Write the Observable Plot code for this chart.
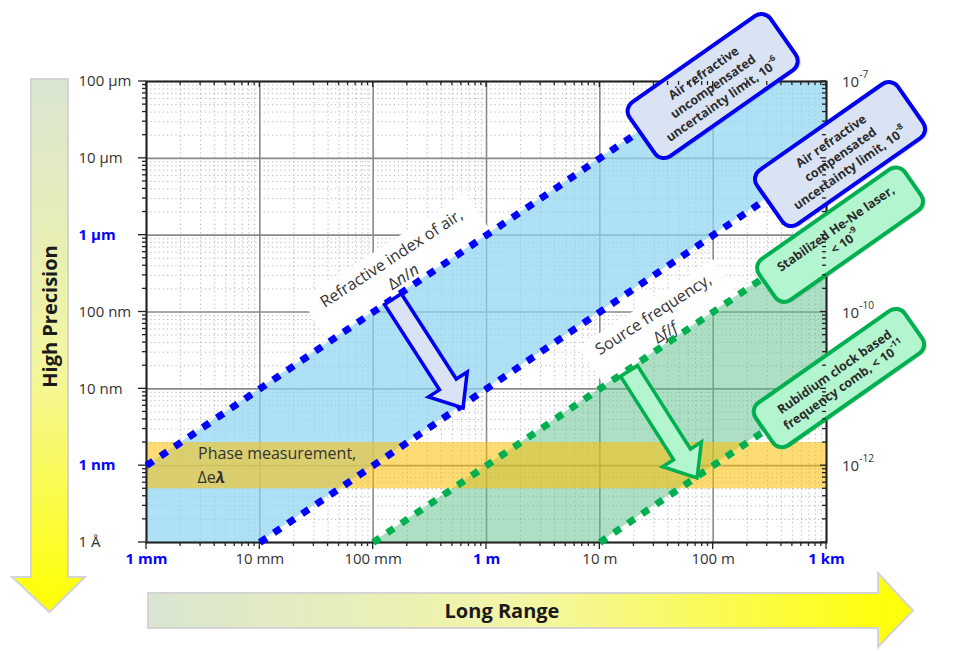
<!DOCTYPE html>
<html><head><meta charset="utf-8">
<script src="https://cdn.jsdelivr.net/npm/d3@7"></script>
<script src="https://cdn.jsdelivr.net/npm/@observablehq/plot@0.6"></script>
<style>
body{margin:0;background:#fff;}
#chart{position:absolute;left:0;top:0;}
</style></head><body><div id="chart"></div>
<script>
// ---------------- data ----------------
const xTickValues = [1e-3, 1e-2, 1e-1, 1, 10, 100, 1000];
const xTickLabels = ["1 mm", "10 mm", "100 mm", "1 m", "10 m", "100 m", "1 km"];
const xTickHighlight = [true, false, false, true, false, false, true];

const yTickValues = [1e-4, 1e-5, 1e-6, 1e-7, 1e-8, 1e-9, 1e-10];
const yTickLabels = ["100 µm", "10 µm", "1 µm", "100 nm", "10 nm", "1 nm", "1 Å"];
const yTickHighlight = [false, false, true, false, false, true, false];

const rightLabelValues = [1e-4, 1e-7, 1e-9];
const rightLabelExp = ["-7", "-10", "-12"];

// limit lines: length L (m) vs uncertainty U (m)
const airUncompLine = [{L: 1e-3, U: 1e-9}, {L: 100, U: 1e-4}];
const airCompLine   = [{L: 1e-2, U: 1e-10}, {L: 1e3, U: 1e-5}];
const heNeLine      = [{L: 0.1, U: 1e-10}, {L: 1e3, U: 1e-6}];
const rbCombLine    = [{L: 10, U: 1e-10}, {L: 1e3, U: 1e-8}];

// shaded regions
const blueRegion  = [{L: 1e-3, lo: 1e-10, hi: 1e-9}, {L: 1e-2, lo: 1e-10, hi: 1e-8}, {L: 100, lo: 1e-6, hi: 1e-4}, {L: 1e3, lo: 1e-5, hi: 1e-4}];
const greenRegion = [{L: 0.1, lo: 1e-10, hi: 1e-10}, {L: 10, lo: 1e-10, hi: 1e-8}, {L: 1e3, lo: 1e-8, hi: 1e-6}];
const phaseBand   = [{L1: 1e-3, L2: 1e3, lo: 5e-10, hi: 2e-9}];

// annotation boxes (centre in data coords)
const boxLabels = [
  {L: 100,  U: 8.6e-5, w: 172, h: 66, kind: "blue",  lines: [[["Air refractive"]], [["uncompensated"]], [["uncertainty limit, 10"], ["-6", "sup"]]]},
  {L: 1330, U: 1.12e-5, w: 172, h: 66, kind: "blue", lines: [[["Air refractive"]], [["compensated"]], [["uncertainty limit, 10"], ["-8", "sup"]]]},
  {L: 1330, U: 1.0e-6, w: 178, h: 50, kind: "green", lines: [[["Stabilized He-Ne laser,"]], [["< 10"], ["-9", "sup"]]]},
  {L: 1300, U: 1.36e-8, w: 182, h: 52, kind: "green", lines: [[["Rubidium clock based"]], [["frequency comb, < 10"], ["-11", "sup"]]]}
];
const slantLabels = [
  {L: 0.164, U: 3.79e-7, w: 196, h: 50, lines: [[["Refractive index of air,"]], [["Δ"], ["n", "it"], ["/"], ["n", "it"]]]},
  {L: 33.6, U: 7.08e-8, w: 160, h: 48, lines: [[["Source frequency,"]], [["Δ"], ["f", "it"], ["/"], ["f", "it"]]]}
];
const blockArrows = [
  {L1: 0.151, U1: 1.45e-7, L2: 0.627, U2: 5.55e-9, kind: "blue"},
  {L1: 18.3, U1: 1.68e-8, L2: 72.8, U2: 6.8e-10, kind: "green"}
];
const phaseText = [{L: 2.85e-3, U: 1.44e-9, t: "Phase measurement,"}];
const phaseSymbol = [{L: 2.85e-3, U: 7.0e-10}];

// ---------------- styling ----------------
const FONT = "'Open Sans', sans-serif";
const BLUE = "#0000ff", GREEN = "#00b050";
const kinds = {
  blue:  {fill: "#dae3f3", stroke: "#0000ee"},
  green: {fill: "#b3f5cf", stroke: "#00b050"}
};
const ANGLE = -35;

const xTicks = xTickValues.map((v, i) => ({v, label: xTickLabels[i], hl: xTickHighlight[i]}));
const yTicks = yTickValues.map((v, i) => ({v, label: yTickLabels[i], hl: yTickHighlight[i]}));
const minorX = xTickValues.slice(0, -1).flatMap(m => [2,3,4,5,6,7,8,9].map(k => k * m));
const minorY = yTickValues.slice(1).flatMap(m => [2,3,4,5,6,7,8,9].map(k => k * m));

function writeParts(textSel, parts) {
  parts.forEach(([s, style]) => {
    const t = textSel.append("tspan").text(s);
    if (style === "sup") t.attr("font-size", "0.68em").attr("baseline-shift", "super");
    if (style === "it") t.attr("font-style", "italic");
  });
}

// decorative side arrows
function sideArrows(index, scales, values, dim) {
  const g = d3.create("svg:g");
  const defs = g.append("defs");
  const gv = defs.append("linearGradient").attr("id", "gradV").attr("x1", 0).attr("y1", 0).attr("x2", 0).attr("y2", 1);
  gv.append("stop").attr("offset", "0%").attr("stop-color", "#d9e5d2");
  gv.append("stop").attr("offset", "55%").attr("stop-color", "#f4f69c");
  gv.append("stop").attr("offset", "100%").attr("stop-color", "#ffff00");
  const gh = defs.append("linearGradient").attr("id", "gradH").attr("x1", 0).attr("y1", 0).attr("x2", 1).attr("y2", 0);
  gh.append("stop").attr("offset", "0%").attr("stop-color", "#d9e5d2");
  gh.append("stop").attr("offset", "50%").attr("stop-color", "#f4f6a4");
  gh.append("stop").attr("offset", "100%").attr("stop-color", "#ffff00");
  const T = dim.marginTop, B = dim.height - dim.marginBottom, Lf = dim.marginLeft, R = dim.width - dim.marginRight;
  const vx0 = 31, vx1 = 68, vcx = 49.5, vtop = T - 2, vhead = B + 35, vtip = B + 70;
  g.append("path")
    .attr("d", `M${vx0},${vtop}H${vx1}V${vhead}H${vx1 + 17}L${vcx},${vtip}L${vx0 - 19},${vhead}H${vx0}Z`)
    .attr("fill", "url(#gradV)").attr("stroke", "#d4d4d4").attr("stroke-width", 2);
  g.append("text").attr("transform", `translate(${vcx},${(T + B) / 2 + 5}) rotate(-90)`)
    .attr("text-anchor", "middle").attr("dominant-baseline", "central")
    .attr("font-family", FONT).attr("font-weight", "bold").attr("font-size", 20).attr("fill", "#1a1a1a")
    .text("High Precision");
  const hy0 = B + 51, hy1 = B + 86, hcy = B + 68.5, hx0 = Lf + 2, hhead = R + 52, htip = R + 87;
  g.append("path")
    .attr("d", `M${hx0},${hy0}H${hhead}V${hy0 - 20}L${htip},${hcy}L${hhead},${hy1 + 19}V${hy1}H${hx0}Z`)
    .attr("fill", "url(#gradH)").attr("stroke", "#d4d4d4").attr("stroke-width", 2);
  g.append("text").attr("x", 502).attr("y", hcy)
    .attr("text-anchor", "middle").attr("dominant-baseline", "central")
    .attr("font-family", FONT).attr("font-weight", "bold").attr("font-size", 20).attr("fill", "#1a1a1a")
    .text("Long Range");
  return g.node();
}

function labelBackgrounds(index, {x, y}) {
  const g = d3.create("svg:g");
  slantLabels.forEach(d => {
    g.append("rect").attr("transform", `translate(${x(d.L)},${y(d.U)}) rotate(-33)`)
      .attr("x", -d.w / 2).attr("y", -d.h / 2).attr("width", d.w).attr("height", d.h).attr("fill", "#fff");
  });
  return g.node();
}

function slantText(index, {x, y}) {
  const g = d3.create("svg:g").attr("font-family", FONT).attr("font-size", 16).attr("fill", "#333");
  slantLabels.forEach(d => {
    const grp = g.append("g").attr("transform", `translate(${x(d.L)},${y(d.U)}) rotate(-33)`);
    d.lines.forEach((parts, i) => {
      const t = grp.append("text").attr("text-anchor", "middle").attr("dominant-baseline", "central")
        .attr("y", (i - (d.lines.length - 1) / 2) * 22);
      writeParts(t, parts);
    });
  });
  return g.node();
}

function arrows(index, {x, y}) {
  const g = d3.create("svg:g");
  blockArrows.forEach(d => {
    const x1 = x(d.L1), y1 = y(d.U1), x2 = x(d.L2), y2 = y(d.U2);
    const len = Math.hypot(x2 - x1, y2 - y1), ang = Math.atan2(y2 - y1, x2 - x1) * 180 / Math.PI;
    const sw = 10, hw = 23, hl = 28;
    g.append("path").attr("transform", `translate(${x1},${y1}) rotate(${ang})`)
      .attr("d", `M0,${-sw}H${len - hl}V${-hw}L${len},0L${len - hl},${hw}V${sw}H0Z`)
      .attr("fill", kinds[d.kind].fill).attr("stroke", kinds[d.kind].stroke)
      .attr("stroke-width", 3.5).attr("stroke-linejoin", "miter");
  });
  return g.node();
}

function boxes(index, {x, y}) {
  const g = d3.create("svg:g").attr("font-family", FONT);
  boxLabels.forEach(d => {
    const grp = g.append("g").attr("transform", `translate(${x(d.L)},${y(d.U)}) rotate(${ANGLE})`);
    grp.append("rect").attr("x", -d.w / 2 + 2).attr("y", -d.h / 2 + 3).attr("width", d.w).attr("height", d.h)
      .attr("rx", 11).attr("fill", "rgba(0,0,0,0.12)");
    grp.append("rect").attr("x", -d.w / 2).attr("y", -d.h / 2).attr("width", d.w).attr("height", d.h)
      .attr("rx", 11).attr("fill", kinds[d.kind].fill).attr("stroke", kinds[d.kind].stroke).attr("stroke-width", 4);
    d.lines.forEach((parts, i) => {
      const t = grp.append("text").attr("text-anchor", "middle").attr("dominant-baseline", "central")
        .attr("y", (i - (d.lines.length - 1) / 2) * 16.5)
        .attr("font-size", 12.5).attr("font-weight", "bold").attr("fill", "#2b2b2b");
      writeParts(t, parts);
    });
  });
  return g.node();
}

function axisTicks(index, {x, y}, values, dim) {
  const g = d3.create("svg:g");
  const lines = g.append("g").attr("stroke", "#222").attr("stroke-width", 1.3);
  const T = dim.marginTop, B = dim.height - dim.marginBottom, Lf = dim.marginLeft, R = dim.width - dim.marginRight;
  const tick = (x1, y1, x2, y2) => lines.append("line").attr("x1", x1).attr("y1", y1).attr("x2", x2).attr("y2", y2);
  xTickValues.forEach(v => { const px = x(v); tick(px, B, px, B + 7); tick(px, T, px, T + 6); });
  minorX.forEach(v => { const px = x(v); tick(px, B, px, B + 4); tick(px, T, px, T + 4); });
  yTickValues.forEach(v => { const py = y(v); tick(Lf - 8, py, Lf, py); tick(R, py, R - 6, py); });
  minorY.forEach(v => { const py = y(v); tick(Lf - 4, py, Lf, py); tick(R, py, R - 4, py); });
  rightLabelValues.forEach((v, i) => {
    const t = g.append("text").attr("x", R + 16).attr("y", y(v)).attr("text-anchor", "start")
      .attr("dominant-baseline", "central").attr("font-family", FONT).attr("font-size", 15).attr("fill", "#333");
    writeParts(t, [["10"], [rightLabelExp[i], "sup"]]);
  });
  return g.node();
}

function phaseSym(index, {x, y}) {
  const g = d3.create("svg:g");
  phaseSymbol.forEach(d => {
    const t = g.append("text").attr("x", x(d.L)).attr("y", y(d.U)).attr("dominant-baseline", "central")
      .attr("text-anchor", "start").attr("font-family", FONT).attr("font-size", 16).attr("fill", "#333");
    t.append("tspan").text("Δe");
    t.append("tspan").text("λ").attr("font-style", "italic").attr("font-weight", "bold");
  });
  return g.node();
}

const dotted = {x: "L", y: "U", strokeWidth: 7, strokeDasharray: "8,9", strokeLinecap: "butt"};

const plot = Plot.plot({
  width: 963, height: 652,
  marginLeft: 146, marginRight: 137, marginTop: 81, marginBottom: 110,
  x: {type: "log", domain: [1e-3, 1e3], axis: null},
  y: {type: "log", domain: [1e-10, 1e-4], axis: null},
  style: {fontFamily: FONT, background: "#fff", overflow: "visible"},
  marks: [
    sideArrows,
    Plot.ruleX(minorX, {stroke: "#b5b5b5", strokeWidth: 1, strokeDasharray: "1.2,3"}),
    Plot.ruleY(minorY, {stroke: "#b5b5b5", strokeWidth: 1, strokeDasharray: "1.2,3"}),
    Plot.ruleX(xTickValues, {stroke: "#8a8a8a", strokeWidth: 1.6}),
    Plot.ruleY(yTickValues, {stroke: "#8a8a8a", strokeWidth: 1.6}),
    labelBackgrounds,
    Plot.areaY(blueRegion, {x: "L", y1: "lo", y2: "hi", fill: "#8fd6f2", fillOpacity: 0.72}),
    Plot.areaY(greenRegion, {x: "L", y1: "lo", y2: "hi", fill: "#5cc08a", fillOpacity: 0.5}),
    Plot.rect(phaseBand, {x1: "L1", x2: "L2", y1: "lo", y2: "hi", fill: "#ffc000", fillOpacity: 0.55}),
    Plot.frame({stroke: "#222", strokeWidth: 2}),
    Plot.line(airUncompLine, {...dotted, stroke: BLUE}),
    Plot.line(airCompLine, {...dotted, stroke: BLUE}),
    Plot.line(heNeLine, {...dotted, stroke: GREEN}),
    Plot.line(rbCombLine, {...dotted, stroke: GREEN}),
    slantText,
    Plot.text(phaseText, {x: "L", y: "U", text: "t", textAnchor: "start", fontSize: 16, fill: "#333"}),
    phaseSym,
    arrows,
    boxes,
    axisTicks,
    Plot.text(xTicks.filter(d => !d.hl), {x: "v", text: "label", frameAnchor: "bottom", dy: 21, fontSize: 15, fill: "#333"}),
    Plot.text(xTicks.filter(d => d.hl), {x: "v", text: "label", frameAnchor: "bottom", dy: 21, fontSize: 15, fontWeight: "bold", fill: BLUE}),
    Plot.text(yTicks.filter(d => !d.hl), {y: "v", text: "label", frameAnchor: "left", dx: -68, textAnchor: "start", fontSize: 15, fill: "#333"}),
    Plot.text(yTicks.filter(d => d.hl), {y: "v", text: "label", frameAnchor: "left", dx: -68, textAnchor: "start", fontSize: 15, fontWeight: "bold", fill: BLUE})
  ]
});
document.getElementById("chart").appendChild(plot);
</script>
</body></html>
